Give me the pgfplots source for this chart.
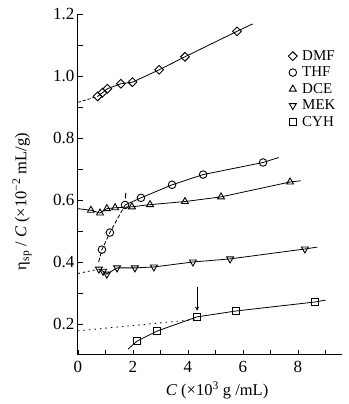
\documentclass[border=0pt]{standalone}
\usepackage{fontspec}
\setmainfont{Liberation Serif}
\usepackage{pgfplots}
\pgfplotsset{compat=1.18}
\begin{document}
\fontsize{16}{18}\selectfont
\begin{tikzpicture}
\begin{axis}[
  scale only axis, width=264pt, height=341pt,
  xmin=0, xmax=9.6, ymin=0.1, ymax=1.2,
  axis x line=bottom, axis y line=left,
  axis line style={-, line width=1pt},
  xtick={0,2,4,6,8}, minor xtick={1,3,5,7,9},
  ytick={0.2,0.4,0.6,0.8,1.0,1.2}, minor ytick={0.3,0.5,0.7,0.9,1.1},
  tick align=inside, major tick length=5pt, minor tick length=5pt,
  tick style={line width=0.8pt, black},
  /pgf/number format/assume math mode=true,
  tick label style={font=\fontsize{17}{19}\selectfont},
  xticklabel style={yshift=-1pt},
  yticklabel style={xshift=2pt, /pgf/number format/fixed, /pgf/number format/fixed zerofill, /pgf/number format/precision=1},
  xlabel={\textit{C} (×10\textsuperscript{3} g /mL)},
  xlabel style={at={(axis description cs:0.527,-0.103)}, anchor=center, font=\fontsize{16.5}{18}\selectfont},
  ylabel={η\textsubscript{sp} / \textit{C} (×10\textsuperscript{−2} mL/g)},
  ylabel style={at={(axis description cs:-0.212,0.45)}, anchor=center, font=\fontsize{16.5}{18}\selectfont},
  legend style={at={(axis description cs:0.785,0.905)}, anchor=north west, draw=none, fill=none,
    font=\fontsize{15}{15}\selectfont, column sep=4pt,
    nodes={inner sep=1pt, text height=10.5pt, text depth=2.5pt}, row sep=1.5pt},
  legend cell align=left,
  legend image code/.code={\draw[#1] plot coordinates {(0pt,0pt)};},
]
% ---- lines (no legend) ----
% DMF
\addplot[forget plot, line width=0.8pt, dash pattern=on 3pt off 2pt] coordinates {(0,0.915) (0.71,0.934)};
\addplot[forget plot, line width=0.8pt] coordinates {(0.71,0.934)(0.89,0.946)(1.07,0.959)(1.56,0.975)(1.98,0.980)(2.95,1.020)(3.89,1.062)(5.78,1.144)(6.35,1.168)};
% THF
\addplot[forget plot, line width=0.8pt, dash pattern=on 4pt off 2pt] coordinates {(0.75,0.40)(0.87,0.44)(1.16,0.495)(1.71,0.584)};
\addplot[forget plot, line width=0.8pt] coordinates {(1.71,0.584)(2.29,0.607)(3.42,0.649)(4.55,0.682)(6.73,0.721)(7.3,0.737)};
% DCE
\addplot[forget plot, line width=0.8pt] coordinates {(0,0.572)(0.47,0.567)(0.8,0.558)(1.05,0.572)(1.35,0.575)(1.96,0.578)(2.62,0.585)(3.89,0.595)(5.2,0.61)(7.71,0.658)(8.1,0.662)};
% MEK
\addplot[forget plot, line width=0.8pt, dash pattern=on 2pt off 3pt] coordinates {(0,0.363)(0.76,0.377)};
\addplot[forget plot, line width=0.8pt] coordinates {(0.76,0.377)(0.91,0.37)(1.05,0.361)(1.42,0.381)(2.07,0.381)(2.76,0.384)(4.18,0.40)(5.53,0.41)(8.25,0.442)(8.7,0.448)};
% CYH
\addplot[forget plot, line width=0.8pt, dash pattern=on 1.5pt off 4pt] coordinates {(0,0.178)(4.33,0.215)};
\addplot[forget plot, line width=0.8pt] coordinates {(1.82,0.119)(2.15,0.145)(2.87,0.177)(4.33,0.223)(5.75,0.242)(8.62,0.271)(9.0,0.277)};
% ---- markers ----
\addplot[only marks, mark=square, mark size=3.1pt, mark options={rotate=45, fill=white, line width=0.9pt}]
  coordinates {(0.71,0.934)(0.89,0.946)(1.07,0.959)(1.56,0.975)(1.98,0.980)(2.95,1.020)(3.89,1.062)(5.78,1.144)};
\addlegendentry{DMF}
\addplot[only marks, mark=o, mark size=3.8pt, mark options={fill=white, line width=0.9pt}]
  coordinates {(0.87,0.44)(1.16,0.495)(1.71,0.584)(2.29,0.607)(3.42,0.649)(4.55,0.682)(6.73,0.721)};
\addlegendentry{THF}
\addplot[only marks, mark=triangle, mark size=4pt, mark options={fill=white, line width=0.9pt}]
  coordinates {(0.47,0.567)(0.8,0.558)(1.05,0.572)(1.35,0.575)(1.96,0.578)(2.62,0.585)(3.89,0.595)(5.2,0.61)(7.71,0.658)};
\addlegendentry{DCE}
\addplot[only marks, mark=triangle, mark size=4pt, mark options={rotate=180, fill=white, line width=0.9pt}]
  coordinates {(0.76,0.377)(0.91,0.37)(1.05,0.361)(1.42,0.381)(2.07,0.381)(2.76,0.384)(4.18,0.40)(5.53,0.41)(8.25,0.442)};
\addlegendentry{MEK}
\addplot[only marks, mark=square, mark size=3.7pt, mark options={fill=white, line width=0.9pt}]
  coordinates {(2.15,0.145)(2.87,0.177)(4.33,0.223)(5.75,0.242)(8.62,0.271)};
\addlegendentry{CYH}
% arrows
\draw[->, line width=0.8pt, >=stealth] (axis cs:4.33,0.318) -- (axis cs:4.33,0.243);
\draw[line width=1pt] (axis cs:1.74,0.623) -- (axis cs:1.72,0.605);
\end{axis}
\pgfresetboundingbox
\useasboundingbox ([shift={(-78pt,-49pt)}]current axis.south west) rectangle ([shift={(7pt,14pt)}]current axis.north east);
\end{tikzpicture}
\end{document}
